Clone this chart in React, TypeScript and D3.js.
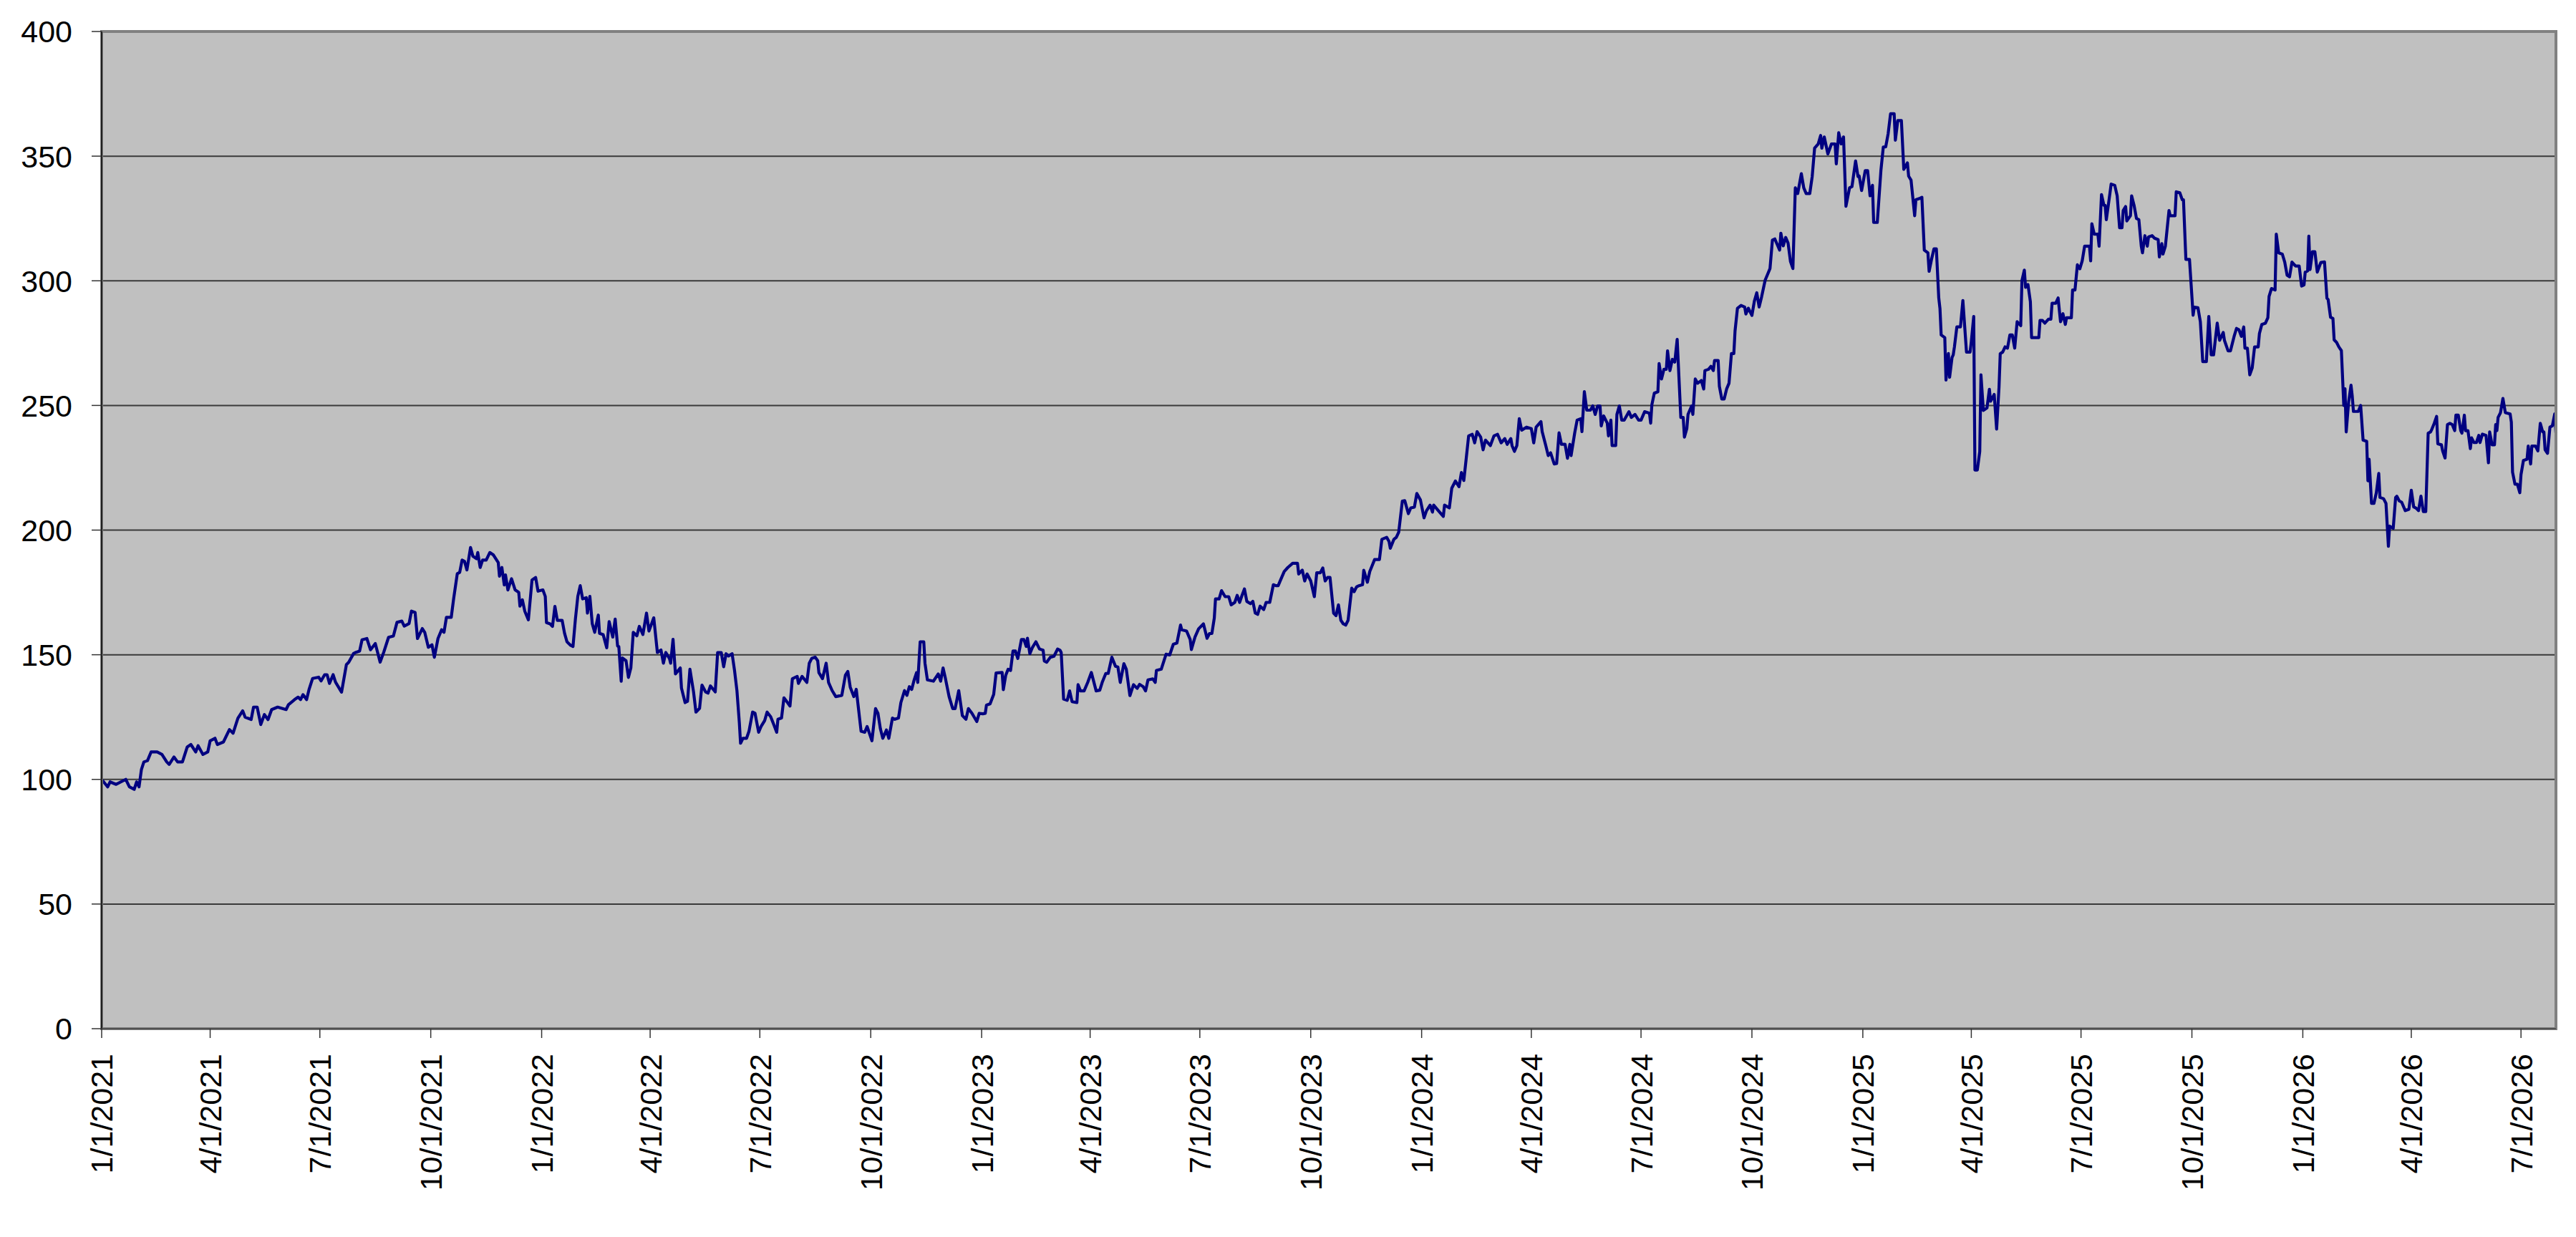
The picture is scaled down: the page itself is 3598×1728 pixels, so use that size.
import { useEffect, useRef } from 'react'
import * as d3 from 'd3'

// [day of year (0 = Jan 1), closing value]
const prices2021: [number, number][] = [
    [0, 100], [5, 97], [7, 99], [12, 98], [20, 100], [23, 97], [27, 96], [29, 99], [31, 97], [33, 104],
    [35, 107], [38, 107.5], [41, 111], [46, 111], [50, 110], [54, 107], [56, 106], [60, 109], [63, 107], [67, 107],
    [71, 113], [74, 114], [78, 111], [80, 113.5], [84, 110], [88, 111], [90, 115.5], [94, 116.5], [96, 114], [101, 115],
    [106, 120], [109, 118.5], [113, 124.5], [117, 127.5], [119, 125], [124, 124], [126, 129], [129, 129], [132, 122], [135, 126],
    [138, 124], [141, 128], [146, 129], [153, 128], [155, 130], [160, 132], [163, 133], [165, 132], [167, 134], [170, 132],
    [172, 136], [175, 140.5], [180, 141], [182, 139.5], [185, 142], [187, 142], [189, 138.5], [192, 142], [194, 139], [199, 135],
    [203, 146], [205, 147], [209, 150.5], [211, 151], [214, 151.5], [216, 156], [220, 156.5], [223, 152], [227, 154.5], [231, 147],
    [234, 151], [238, 157], [242, 157.5], [245, 163], [249, 163.5], [251, 161.5], [255, 162.5], [257, 167.5], [260, 167], [262, 156.5],
    [266, 160.5], [268, 159], [271, 153], [274, 154], [276, 149], [279, 156.5], [282, 160], [284, 159], [286, 165], [290, 165],
    [292, 172.5], [295, 182.5], [297, 183], [299, 188], [301, 187.5], [303, 184], [306, 193], [308, 189.5], [311, 188.5], [312, 191],
    [314, 185], [316, 188], [319, 188], [322, 191], [325, 190], [329, 187], [330, 181.5], [332, 185], [334, 178], [335, 182],
    [337, 176], [340, 180.5], [343, 176], [346, 175], [347, 169.5], [349, 172], [351, 167.5], [354, 164], [357, 180], [360, 181],
    [362, 175.5]
]

const prices2022: [number, number][] = [
    [1, 176], [3, 173.4], [4, 162.9], [7, 162.4], [9, 161.4], [11, 169.4], [13, 163.8], [17, 163.8], [19, 158.6], [21, 155.2],
    [24, 153.8], [26, 153.3], [28, 164.3], [30, 173.4], [32, 177.7], [34, 172.4], [37, 172.9], [38, 166.7], [40, 173.4], [42, 162.4],
    [44, 159], [47, 165.9], [48, 158.6], [51, 158.1], [54, 152.8], [56, 163.3], [59, 157.1], [61, 164.3], [63, 153.5], [64, 153.3],
    [66, 139.4], [67, 148.7], [70, 147.6], [72, 140.9], [74, 144.7], [76, 159], [79, 157.6], [81, 161.4], [84, 158.1], [87, 166.7],
    [89, 159.5], [93, 164.8], [96, 150.9], [99, 151.9], [101, 146.6], [103, 150.9], [106, 148.5], [107, 146.6], [109, 156.2], [111, 142.3],
    [115, 144.7], [116, 136.6], [119, 130.8], [121, 131.3], [123, 144.2], [126, 135.1], [128, 127], [131, 128.5], [133, 137.8], [136, 135.1],
    [138, 134.6], [140, 137.5], [144, 135.1], [146, 150.9], [149, 150.9], [151, 145.2], [153, 150.4], [155, 149.5], [158, 150.4], [160, 143.7],
    [162, 135.6], [164, 122.7], [165, 114.5], [167, 116.5], [170, 116.5], [172, 119.3], [175, 127], [177, 126.5], [180, 118.9], [182, 121.2],
    [185, 123.6], [187, 127], [190, 125.1], [192, 122.7], [195, 118.9], [196, 124.1], [199, 124.6], [201, 132.7], [204, 130.8], [206, 129.4],
    [208, 140.4], [212, 141.3], [213, 138.5], [216, 141.3], [220, 138.9], [222, 146.6], [224, 148.5], [227, 149], [229, 147.6], [230, 142.8],
    [233, 140.4], [236, 146.6], [238, 138.9], [241, 135.6], [244, 133.2], [249, 133.7], [252, 141.8], [254, 143.3], [256, 137], [259, 133.2],
    [261, 136.1], [265, 119.3], [268, 118.9], [270, 121.2], [274, 115.5], [277, 128.4], [279, 126.5], [281, 120.3], [283, 116.5], [286, 119.8],
    [288, 116.5], [291, 124.6], [293, 124.1], [296, 124.6], [298, 130.8], [301, 135.6], [303, 133.7], [305, 137.2], [307, 136.1], [309, 139.9],
    [311, 142.8], [312, 138.9], [314, 155.2], [317, 155.2], [318, 146.6], [320, 139.9], [325, 139.4], [329, 142.3], [331, 139.4], [333, 144.7],
    [335, 140.4], [338, 133.2], [341, 128.4], [343, 128.4], [346, 135.6], [349, 125.6], [352, 124.1], [354, 128.4], [357, 126.5], [361, 123.2],
    [363, 126.5]
]

const prices2023: [number, number][] = [
    [1, 126.3], [3, 126.5], [4, 129.8], [7, 130.3], [10, 134.1], [12, 142.7], [17, 142.9], [18, 136], [20, 141.8], [22, 144.2],
    [24, 143.7], [26, 151.5], [28, 151.5], [30, 148.5], [33, 156.1], [35, 156.1], [37, 153.3], [38, 156.6], [40, 150.4], [42, 152.8],
    [45, 155.2], [48, 152.3], [51, 151.8], [52, 147.5], [54, 147], [57, 149], [60, 149.4], [63, 152.3], [65, 151.8], [66, 150.9],
    [68, 132.2], [71, 131.7], [73, 135.5], [75, 131.2], [79, 130.8], [80, 138], [82, 135.5], [85, 135.5], [88, 138.9], [91, 142.9],
    [95, 135.5], [98, 135.8], [100, 138.9], [103, 142.5], [105, 142.5], [108, 149], [111, 145.4], [113, 145.1], [115, 138.9], [118, 146.4],
    [120, 144.2], [123, 133.6], [126, 138], [129, 136.5], [131, 138.1], [134, 137.2], [136, 135.5], [138, 139.9], [142, 140.3], [144, 138.9],
    [145, 143.7], [149, 144.2], [153, 150.2], [156, 149.9], [159, 154.2], [162, 154.7], [165, 161.9], [166, 160], [170, 159.5], [173, 156.1],
    [174, 152.1], [177, 157.1], [180, 160.4], [183, 161.9], [184, 162.4], [187, 156.6], [189, 158.5], [191, 158.5], [193, 164.7], [194, 172.4],
    [197, 172.4], [199, 175.7], [202, 173.3], [205, 173.3], [207, 170], [210, 171], [212, 173.8], [214, 171], [216, 173.8], [218, 176.4],
    [220, 171.4], [223, 170.5], [225, 171.4], [227, 166.7], [229, 166.2], [231, 169.5], [234, 168.1], [236, 171], [239, 171], [242, 178.1],
    [244, 177.7], [246, 177.7], [248, 180], [251, 183.4], [254, 185], [258, 186.7], [262, 186.7], [263, 182.4], [266, 183.9], [268, 179.6],
    [270, 182.4], [273, 179.6], [276, 173.3], [278, 182.9], [281, 182.9], [283, 184.8], [285, 179.6], [287, 181], [289, 181], [292, 166.7],
    [294, 165.7], [296, 170], [298, 163.8], [300, 162.4], [302, 161.9], [304, 163.8], [307, 176.7], [309, 175.3], [311, 177.2], [313, 177.7],
    [316, 178.1], [317, 183.9], [320, 179.1], [322, 183.4], [324, 185.8], [326, 188.2], [330, 188.2], [332, 196.3], [336, 197.1], [338, 195.4],
    [339, 192.7], [342, 196.3], [344, 197.1], [346, 199.2], [349, 211.6], [351, 211.8], [354, 206.6], [356, 208.9], [359, 209.2], [361, 214.7],
    [364, 212.1]
]

const prices2024: [number, number][] = [
    [2, 204.9], [4, 207.7], [7, 210], [9, 207.2], [10, 210], [14, 207.7], [18, 205.5], [19, 210], [23, 208.9], [25, 216.8],
    [28, 219.7], [31, 217.4], [33, 223.1], [35, 219.9], [37, 228.8], [39, 237.8], [42, 238.4], [44, 235], [46, 239.5], [49, 237.3],
    [51, 232.2], [53, 236.1], [57, 233.9], [60, 237.8], [63, 238.4], [66, 235], [69, 236.7], [71, 234.4], [74, 236.7], [75, 233.9],
    [77, 231.6], [79, 233.9], [81, 244.7], [83, 240.1], [87, 241.3], [91, 240.7], [93, 235], [95, 241.3], [99, 243.5], [100, 239.5],
    [103, 233.9], [105, 229.9], [107, 231], [110, 226.5], [112, 226.7], [114, 239], [116, 234.4], [119, 234.4], [121, 228.8], [123, 234.4],
    [124, 229.9], [127, 239], [129, 244.1], [132, 244.7], [133, 239.5], [135, 255.5], [137, 248.1], [140, 248.1], [142, 249.8], [144, 246.4],
    [146, 249.8], [148, 249.8], [149, 241.8], [151, 245.8], [154, 242.9], [155, 237.8], [157, 244.1], [158, 233.9], [161, 233.9], [162, 246.4],
    [164, 249.8], [166, 244.1], [168, 244.1], [172, 247.5], [174, 245.2], [177, 246.4], [180, 244.1], [182, 244.1], [185, 247.5], [189, 246.9],
    [190, 242.9], [191, 250.3], [193, 254.9], [196, 255.5], [197, 266.8], [199, 260.6], [201, 264.5], [203, 264.5], [204, 271.9], [206, 264],
    [208, 268.5], [210, 267.4], [212, 276.5], [215, 245.2], [217, 245.2], [218, 237.3], [220, 240.7], [221, 246.4], [224, 249.8], [225, 246.4],
    [227, 260.6], [229, 258.9], [232, 260], [234, 256.6], [235, 264], [238, 264.5], [240, 265.7], [242, 264], [243, 268], [246, 268],
    [247, 257.7], [249, 252.6], [251, 252.6], [253, 256.6], [255, 258.9], [257, 270.8], [259, 270.8], [260, 279.9], [262, 289], [265, 290.1],
    [268, 289.5], [269, 286.7], [271, 289], [274, 286.1], [276, 291.8], [278, 295.2], [280, 289.5], [282, 293.5], [285, 300.3], [287, 302.6],
    [289, 304.9], [291, 316.3], [293, 316.8], [297, 312.3], [298, 319.1], [300, 314], [302, 317.4], [304, 315.1], [306, 307.7], [308, 304.9],
    [310, 337.3], [312, 335], [315, 343], [317, 337.3], [319, 335], [322, 335], [324, 341.8], [326, 353.2], [329, 354.9], [331, 358.3],
    [332, 353.2], [334, 357.7], [337, 350.9], [340, 354.9], [343, 354.9], [344, 346.9], [346, 359.4], [348, 354.9], [350, 357.7], [352, 329.9],
    [355, 337.3], [357, 337.8], [360, 348.1], [362, 341.8], [363, 342], [365, 336.2]
]

const prices2025: [number, number][] = [
    [2, 344.2], [4, 344.2], [6, 334.1], [8, 338.3], [9, 323.4], [12, 323.4], [15, 344.2], [17, 353.7], [19, 353.7], [21, 359],
    [23, 367], [26, 367], [27, 356.4], [29, 364.3], [32, 364.3], [34, 344.7], [37, 347.3], [38, 342], [40, 340.4], [43, 326.1],
    [44, 332.5], [47, 333], [49, 333.5], [51, 312.3], [54, 311.2], [55, 303.8], [57, 308.6], [59, 312.8], [61, 312.8], [63, 293.1],
    [64, 288.9], [65, 278.3], [68, 277.2], [69, 260.2], [71, 270.8], [72, 261.3], [74, 269.2], [75, 270.3], [76, 273.5], [78, 281.5],
    [81, 281.5], [83, 292.1], [86, 271.4], [89, 271.4], [90, 275.6], [92, 285.7], [93, 224.1], [95, 224.1], [97, 231.5], [98, 262.3],
    [100, 248], [103, 249], [105, 256.5], [106, 251.7], [109, 254.4], [111, 240.5], [113, 257.5], [114, 270.8], [116, 271.4], [118, 273.5],
    [120, 273], [122, 278.3], [124, 278.3], [126, 273], [128, 283.6], [131, 282], [132, 300.1], [134, 304.3], [135, 297.4], [137, 298.5],
    [139, 291.6], [140, 277.2], [143, 277.2], [146, 277.2], [147, 284.1], [149, 284.1], [151, 283], [154, 284.6], [156, 284.6], [157, 291],
    [160, 291], [162, 293.1], [164, 283.6], [166, 286.8], [168, 282.5], [169, 285.2], [173, 285.2], [174, 296.3], [176, 296.3], [178, 306.4],
    [180, 304.8], [182, 308], [184, 313.9], [188, 313.9], [189, 308], [190, 322.9], [192, 318.7], [195, 318.7], [196, 313.9], [198, 334.6],
    [200, 330.3], [201, 330.3], [202, 324.5], [205, 335.1], [206, 338.8], [209, 338.3], [211, 334.1], [213, 321.3], [215, 321.3], [216, 328.2],
    [218, 329.8], [219, 324], [222, 326.1], [223, 334.1], [225, 330.3], [227, 325], [229, 324.5], [231, 313.9], [232, 311.2], [234, 318.1],
    [236, 313.9], [237, 317.6], [240, 318.1], [242, 317.1], [245, 316.5], [246, 309.6], [248, 314.9], [249, 310.7], [251, 313.9], [254, 328.2],
    [255, 326.1], [259, 326.1], [260, 335.7], [263, 335.3], [265, 332.5], [266, 332.5], [268, 308.6], [271, 308.6], [274, 286.2], [275, 289.4],
    [278, 289.2], [280, 283.6], [282, 267.6], [285, 267.6], [287, 285.7], [289, 270.3], [291, 270.3], [294, 283], [296, 276.1], [299, 279.3],
    [300, 276.1], [303, 271.9], [305, 271.9], [308, 277.7], [310, 280.9], [312, 280.4], [314, 277.7], [316, 281.5], [317, 273], [319, 273],
    [321, 262.3], [323, 265], [325, 273.5], [328, 273.5], [329, 278.8], [331, 282.5], [334, 283], [336, 285.2], [337, 293.7], [339, 296.9],
    [342, 296.3], [343, 318.7], [345, 311.2], [348, 310.7], [350, 307.5], [352, 302.2], [354, 301.6], [356, 307.5], [359, 305.9], [362, 305.9],
    [364, 297.9]
]

const prices2026: [number, number][] = [
    [1, 298.3], [2, 303.5], [4, 304], [5, 317.9], [6, 304.5], [8, 311.7], [10, 311.7], [12, 303.5], [15, 307.4], [18, 307.6],
    [20, 293], [21, 292.5], [23, 285.4], [25, 284.9], [26, 276.3], [28, 275.3], [30, 273.4], [32, 272], [34, 250], [35, 256.7],
    [36, 239.4], [38, 251.4], [40, 258.1], [41, 253.8], [42, 247.6], [46, 247.6], [48, 250], [50, 236.1], [53, 235.6], [54, 219.8],
    [55, 228.4], [57, 210.7], [59, 210.7], [61, 215], [63, 222.7], [64, 213.1], [67, 212.6], [69, 210.7], [71, 193.5], [72, 201.6],
    [75, 200.7], [77, 213.1], [78, 213.6], [80, 211.7], [82, 211.2], [85, 207.8], [88, 208.3], [90, 216], [92, 209.3], [94, 208.8],
    [96, 207.8], [98, 213.6], [100, 207.4], [102, 207.4], [104, 238.9], [106, 239.4], [107, 240.4], [109, 242.8], [111, 245.6], [112, 234.6],
    [115, 234.2], [116, 231.8], [118, 228.9], [120, 242.3], [122, 242.8], [124, 242.3], [126, 239.9], [127, 246.1], [129, 246.1], [131, 239.9],
    [132, 238.9], [134, 246.1], [135, 239.9], [137, 239.9], [139, 232.7], [140, 237], [142, 235.1], [144, 235.1], [146, 238], [147, 235.1],
    [149, 238.5], [152, 238], [154, 227], [155, 239.4], [157, 234.2], [159, 234.2], [160, 242.3], [161, 239.9], [162, 245.2], [164, 247.1],
    [166, 252.8], [168, 247.1], [172, 246.6], [173, 243.3], [174, 223.2], [176, 218.4], [178, 218.4], [180, 215], [181, 222.2], [183, 227.9],
    [186, 228.4], [187, 233.7], [189, 226.5], [190, 233.7], [193, 233.7], [195, 231.8], [197, 242.8], [199, 239.4], [200, 239.4], [201, 232.2],
    [203, 230.8], [205, 241.3], [207, 241.8], [209, 246.6], [210, 239]
]

const yearSeries: [number, [number, number][]][] = [
    [2021, prices2021], [2022, prices2022], [2023, prices2023],
    [2024, prices2024], [2025, prices2025], [2026, prices2026]
]

const yTicks = [0, 50, 100, 150, 200, 250, 300, 350, 400]

interface Point {
    date: Date
    value: number
}

export default function App() {
    const svgRef = useRef<SVGSVGElement>(null)

    const width = 3598
    const height = 1728
    const margin = { top: 44, right: 28, bottom: 291, left: 142 }

    useEffect(() => {
        if (!svgRef.current) return

        d3.select(svgRef.current).selectAll('*').remove()

        const data: Point[] = yearSeries.flatMap(([year, rows]) =>
            rows.map(([day, value]) => ({ date: new Date(year, 0, 1 + day), value }))
        )

        const svg = d3.select(svgRef.current)
            .attr('width', width)
            .attr('height', height)

        const innerLeft = margin.left
        const innerRight = width - margin.right
        const innerTop = margin.top
        const innerBottom = height - margin.bottom

        const x = d3.scaleTime()
            .domain([new Date(2021, 0, 1), data[data.length - 1].date])
            .range([innerLeft, innerRight])

        const y = d3.scaleLinear()
            .domain([0, 400])
            .range([innerBottom, innerTop])

        const font = '"Liberation Sans", Arial, sans-serif'

        // Plot area background
        svg.append('rect')
            .attr('x', innerLeft)
            .attr('y', innerTop)
            .attr('width', innerRight - innerLeft)
            .attr('height', innerBottom - innerTop)
            .attr('fill', '#c0c0c0')

        // Horizontal gridlines
        svg.append('g')
            .selectAll('line')
            .data(yTicks.filter(t => t > 0 && t < 400))
            .enter()
            .append('line')
            .attr('x1', innerLeft)
            .attr('x2', innerRight)
            .attr('y1', d => y(d))
            .attr('y2', d => y(d))
            .attr('stroke', '#3a3a3a')
            .attr('stroke-width', 2)

        // Price line
        const line = d3.line<Point>()
            .x(d => x(d.date))
            .y(d => y(d.value))

        svg.append('path')
            .datum(data)
            .attr('d', line)
            .attr('fill', 'none')
            .attr('stroke', '#000080')
            .attr('stroke-width', 4.2)
            .attr('stroke-linejoin', 'round')

        // Plot area border
        svg.append('rect')
            .attr('x', innerLeft)
            .attr('y', innerTop)
            .attr('width', innerRight - innerLeft)
            .attr('height', innerBottom - innerTop)
            .attr('fill', 'none')
            .attr('stroke', '#808080')
            .attr('stroke-width', 4)

        // Axis lines
        svg.append('line')
            .attr('x1', innerLeft).attr('x2', innerLeft)
            .attr('y1', innerTop).attr('y2', innerBottom)
            .attr('stroke', '#000')
            .attr('stroke-width', 1.5)

        svg.append('line')
            .attr('x1', innerLeft).attr('x2', innerRight)
            .attr('y1', innerBottom).attr('y2', innerBottom)
            .attr('stroke', '#404040')
            .attr('stroke-width', 1.5)

        // Y axis ticks and labels
        const yAxis = svg.append('g')
        yAxis.selectAll('line')
            .data(yTicks)
            .enter()
            .append('line')
            .attr('x1', innerLeft - 14)
            .attr('x2', innerLeft)
            .attr('y1', d => y(d))
            .attr('y2', d => y(d))
            .attr('stroke', '#333')
            .attr('stroke-width', 1.5)

        yAxis.selectAll('text')
            .data(yTicks)
            .enter()
            .append('text')
            .attr('x', 101)
            .attr('y', d => y(d))
            .attr('dy', '0.36em')
            .attr('text-anchor', 'end')
            .style('font-family', font)
            .style('font-size', '43px')
            .style('fill', '#000')
            .text(d => d)

        // X axis: quarterly ticks
        const xTicks = d3.timeMonth.every(3)!.range(new Date(2021, 0, 1), d3.timeDay.offset(x.domain()[1], 1))
        const fmt = d3.timeFormat('%-m/%-d/%Y')

        const xAxis = svg.append('g')
        xAxis.selectAll('line')
            .data(xTicks)
            .enter()
            .append('line')
            .attr('x1', d => x(d))
            .attr('x2', d => x(d))
            .attr('y1', innerBottom)
            .attr('y2', innerBottom + 13)
            .attr('stroke', '#333')
            .attr('stroke-width', 1.5)

        xAxis.selectAll('text')
            .data(xTicks)
            .enter()
            .append('text')
            .attr('transform', d => `translate(${x(d)}, ${innerBottom + 35}) rotate(-90)`)
            .attr('dy', '0.36em')
            .attr('text-anchor', 'end')
            .style('font-family', font)
            .style('font-size', '43px')
            .style('fill', '#000')
            .text(d => fmt(d))

    }, [])

    return (
        <div style={{ position: 'absolute', left: 0, top: 0, background: '#fff' }}>
            <svg ref={svgRef} style={{ display: 'block' }}></svg>
        </div>
    )
}
